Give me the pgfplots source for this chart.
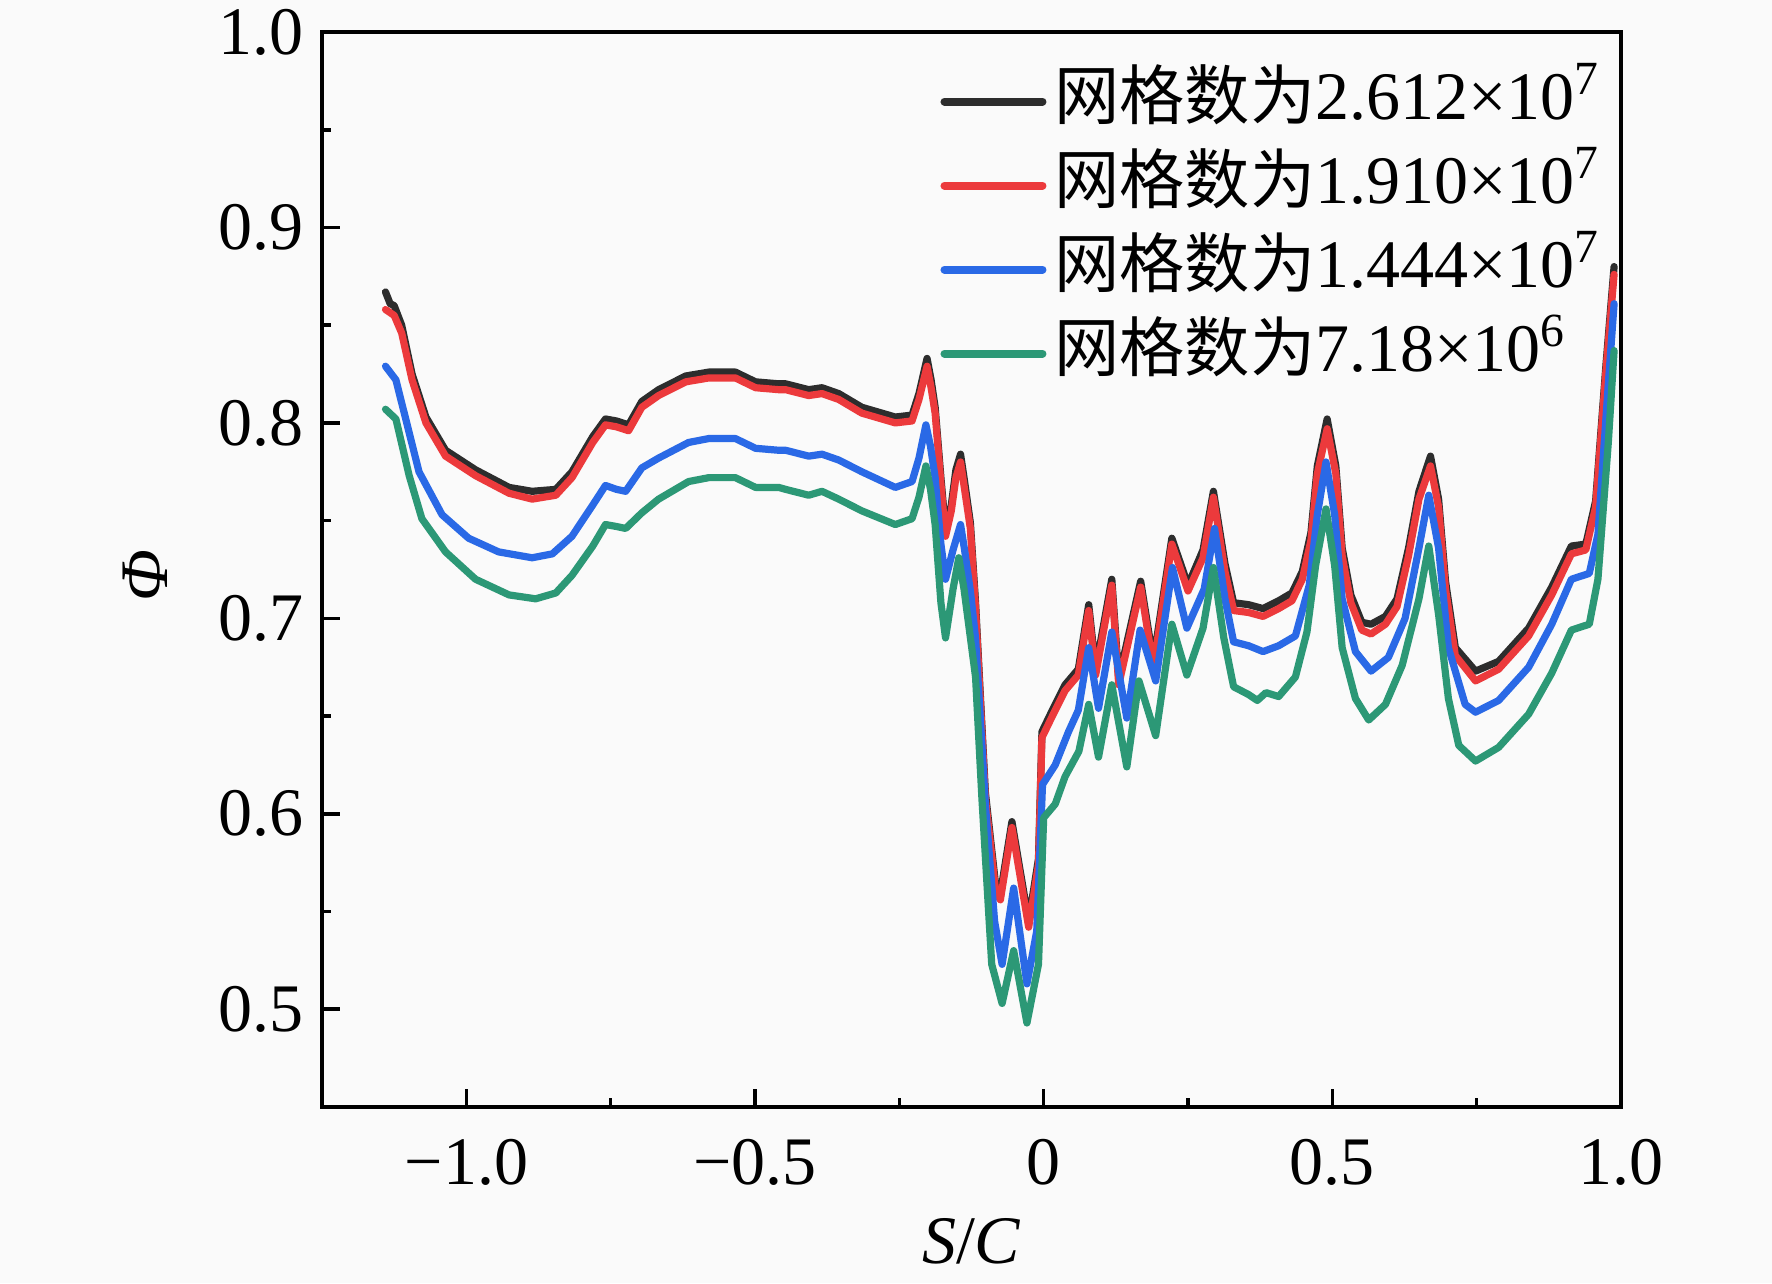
\documentclass[border=0pt]{standalone}
\usepackage{pgfplots}
\pgfplotsset{compat=1.18}
\usepackage{fontspec}
\setmainfont{Liberation Serif}
\newfontfamily\cjk{Noto Sans CJK SC}
\newcommand{\cj}[1]{{\cjk\fontsize{16.3}{20}\selectfont #1}}
\definecolor{cblack}{RGB}{45,45,45}
\definecolor{cred}{RGB}{236,58,60}
\definecolor{cblue}{RGB}{42,105,230}
\definecolor{cgreen}{RGB}{44,152,118}
\definecolor{bg}{RGB}{250,250,250}
\begin{document}
\begin{tikzpicture}
\fill[bg] (-80.5pt,-44pt) rectangle (362.5pt,276.75pt);
\useasboundingbox (-80.5pt,-44pt) rectangle (362.5pt,276.75pt);
\begin{axis}[
  scale only axis, width=324.75pt, height=268.75pt,
  xmin=-1.25, xmax=1.0, ymin=0.45, ymax=1.0,
  font=\fontsize{17}{20}\selectfont,
  axis line style={line width=1pt},
  tick style={line width=0.9pt, black},
  tick align=inside, xtick pos=bottom, ytick pos=left,
  major tick length=4.6pt, minor tick length=2.2pt,
  xtick={-1,-0.5,0,0.5,1}, xticklabels={−1.0,−0.5,0,0.5,1.0},
  ytick={0.5,0.6,0.7,0.8,0.9,1.0}, yticklabels={0.5,0.6,0.7,0.8,0.9,1.0},
  minor xtick={-0.75,-0.25,0.25,0.75},
  minor ytick={0.55,0.65,0.75,0.85,0.95},
  xticklabel style={yshift=-4.5pt},
  yticklabel style={xshift=-1pt},
  xlabel={\textit{S}/\textit{C}}, ylabel={\textit{Φ}},
  xlabel style={at={(axis description cs:0.5,-0.1247)}, anchor=center},
  ylabel style={at={(axis description cs:-0.136,0.494)}, anchor=center},
  legend cell align=left,
  legend image code/.code={\draw[#1,line width=2pt] (0pt,0pt) -- (24.5pt,0pt);},
  legend style={at={(axis cs:0.9796,0.9863)}, anchor=north east, draw=none, fill=none,
    inner sep=0pt, row sep=0pt,
    nodes={inner sep=2pt, text height=13pt, text depth=4pt, font=\fontsize{17}{20}\selectfont}},
  every axis plot/.append style={line width=1.8pt, line join=round, line cap=round},
]
\addplot[cblack] coordinates {
(-1.140,0.867)(-1.132,0.861)(-1.125,0.860)(-1.112,0.850)(-1.094,0.825)(-1.070,0.803)(-1.036,0.786)(-0.984,0.776)(-0.926,0.767)(-0.886,0.765)(-0.845,0.766)(-0.817,0.775)(-0.781,0.793)(-0.759,0.802)(-0.740,0.801)(-0.719,0.799)(-0.696,0.811)(-0.667,0.817)(-0.620,0.824)(-0.580,0.826)(-0.534,0.826)(-0.499,0.821)(-0.459,0.820)(-0.447,0.820)(-0.407,0.817)(-0.384,0.818)(-0.355,0.815)(-0.315,0.808)(-0.257,0.803)(-0.228,0.804)(-0.216,0.815)(-0.202,0.833)(-0.195,0.822)(-0.188,0.808)(-0.178,0.772)(-0.170,0.745)(-0.160,0.758)(-0.152,0.776)(-0.144,0.784)(-0.137,0.770)(-0.127,0.749)(-0.118,0.708)(-0.101,0.611)(-0.083,0.563)(-0.075,0.559)(-0.055,0.596)(-0.026,0.545)(-0.009,0.577)(-0.003,0.642)(0.015,0.653)(0.037,0.666)(0.060,0.674)(0.078,0.707)(0.090,0.674)(0.118,0.720)(0.130,0.669)(0.168,0.719)(0.190,0.678)(0.222,0.741)(0.250,0.717)(0.276,0.735)(0.294,0.765)(0.314,0.728)(0.329,0.708)(0.355,0.707)(0.380,0.705)(0.407,0.709)(0.430,0.713)(0.448,0.724)(0.463,0.744)(0.474,0.778)(0.491,0.802)(0.506,0.778)(0.517,0.736)(0.532,0.712)(0.551,0.698)(0.567,0.697)(0.592,0.701)(0.612,0.710)(0.632,0.736)(0.650,0.765)(0.670,0.783)(0.684,0.761)(0.696,0.719)(0.713,0.685)(0.748,0.673)(0.788,0.678)(0.840,0.695)(0.880,0.716)(0.914,0.737)(0.939,0.738)(0.956,0.760)(0.974,0.830)(0.988,0.880)
};
\addlegendentry{\cj{网格数为}2.612×10\textsuperscript{7}}
\addplot[cred] coordinates {
(-1.140,0.858)(-1.125,0.855)(-1.112,0.846)(-1.094,0.822)(-1.070,0.800)(-1.036,0.783)(-0.984,0.773)(-0.926,0.764)(-0.886,0.761)(-0.845,0.763)(-0.817,0.772)(-0.781,0.790)(-0.759,0.799)(-0.740,0.798)(-0.719,0.796)(-0.696,0.808)(-0.667,0.814)(-0.620,0.821)(-0.580,0.823)(-0.534,0.823)(-0.499,0.818)(-0.459,0.817)(-0.447,0.817)(-0.407,0.814)(-0.384,0.815)(-0.355,0.812)(-0.315,0.805)(-0.257,0.800)(-0.228,0.801)(-0.216,0.812)(-0.202,0.829)(-0.195,0.818)(-0.188,0.805)(-0.178,0.769)(-0.170,0.742)(-0.160,0.755)(-0.152,0.772)(-0.144,0.780)(-0.137,0.766)(-0.127,0.746)(-0.118,0.705)(-0.101,0.608)(-0.083,0.560)(-0.075,0.556)(-0.055,0.593)(-0.026,0.542)(-0.009,0.574)(-0.003,0.639)(0.015,0.650)(0.037,0.663)(0.060,0.671)(0.078,0.704)(0.090,0.671)(0.118,0.717)(0.130,0.666)(0.168,0.716)(0.190,0.675)(0.222,0.738)(0.250,0.714)(0.276,0.731)(0.294,0.762)(0.314,0.724)(0.329,0.704)(0.355,0.703)(0.380,0.701)(0.407,0.705)(0.430,0.709)(0.448,0.720)(0.463,0.740)(0.474,0.774)(0.491,0.797)(0.506,0.774)(0.517,0.732)(0.532,0.708)(0.551,0.694)(0.567,0.692)(0.592,0.697)(0.612,0.706)(0.632,0.732)(0.650,0.761)(0.670,0.778)(0.684,0.757)(0.696,0.715)(0.713,0.681)(0.748,0.668)(0.788,0.674)(0.840,0.691)(0.880,0.712)(0.914,0.733)(0.939,0.735)(0.956,0.757)(0.974,0.827)(0.988,0.876)
};
\addlegendentry{\cj{网格数为}1.910×10\textsuperscript{7}}
\addplot[cblue] coordinates {
(-1.140,0.829)(-1.122,0.822)(-1.099,0.795)(-1.082,0.775)(-1.042,0.753)(-0.996,0.741)(-0.944,0.734)(-0.886,0.731)(-0.851,0.733)(-0.817,0.742)(-0.781,0.758)(-0.759,0.768)(-0.740,0.766)(-0.724,0.765)(-0.696,0.777)(-0.667,0.782)(-0.615,0.790)(-0.580,0.792)(-0.534,0.792)(-0.499,0.787)(-0.459,0.786)(-0.447,0.786)(-0.407,0.783)(-0.384,0.784)(-0.355,0.781)(-0.315,0.775)(-0.257,0.767)(-0.228,0.770)(-0.216,0.782)(-0.204,0.799)(-0.196,0.788)(-0.188,0.772)(-0.178,0.738)(-0.170,0.720)(-0.157,0.735)(-0.144,0.748)(-0.137,0.735)(-0.127,0.714)(-0.118,0.690)(-0.101,0.605)(-0.085,0.545)(-0.072,0.523)(-0.052,0.562)(-0.029,0.513)(-0.012,0.540)(-0.002,0.615)(0.020,0.625)(0.043,0.642)(0.060,0.653)(0.078,0.685)(0.095,0.654)(0.118,0.693)(0.144,0.649)(0.167,0.694)(0.194,0.668)(0.223,0.726)(0.248,0.695)(0.278,0.715)(0.296,0.746)(0.314,0.710)(0.329,0.688)(0.355,0.686)(0.380,0.683)(0.407,0.686)(0.436,0.691)(0.460,0.717)(0.474,0.753)(0.489,0.780)(0.504,0.753)(0.517,0.710)(0.540,0.683)(0.567,0.673)(0.597,0.680)(0.626,0.700)(0.650,0.736)(0.667,0.763)(0.684,0.736)(0.701,0.685)(0.730,0.656)(0.748,0.652)(0.788,0.658)(0.840,0.675)(0.880,0.697)(0.914,0.720)(0.945,0.723)(0.960,0.743)(0.978,0.820)(0.988,0.861)
};
\addlegendentry{\cj{网格数为}1.444×10\textsuperscript{7}}
\addplot[cgreen] coordinates {
(-1.140,0.807)(-1.122,0.802)(-1.099,0.773)(-1.077,0.751)(-1.036,0.734)(-0.984,0.720)(-0.926,0.712)(-0.880,0.710)(-0.845,0.713)(-0.817,0.722)(-0.781,0.737)(-0.759,0.748)(-0.740,0.747)(-0.724,0.746)(-0.696,0.754)(-0.667,0.761)(-0.615,0.770)(-0.580,0.772)(-0.534,0.772)(-0.499,0.767)(-0.459,0.767)(-0.447,0.766)(-0.407,0.763)(-0.384,0.765)(-0.355,0.761)(-0.315,0.755)(-0.257,0.748)(-0.228,0.751)(-0.216,0.762)(-0.204,0.778)(-0.196,0.766)(-0.188,0.748)(-0.178,0.708)(-0.170,0.690)(-0.157,0.715)(-0.147,0.731)(-0.138,0.715)(-0.130,0.697)(-0.118,0.670)(-0.107,0.608)(-0.090,0.523)(-0.072,0.503)(-0.052,0.530)(-0.029,0.493)(-0.009,0.523)(0.000,0.598)(0.020,0.605)(0.037,0.619)(0.061,0.632)(0.078,0.656)(0.095,0.629)(0.118,0.666)(0.144,0.624)(0.165,0.668)(0.194,0.640)(0.222,0.697)(0.248,0.671)(0.276,0.695)(0.294,0.726)(0.312,0.690)(0.329,0.665)(0.355,0.661)(0.370,0.658)(0.385,0.662)(0.407,0.660)(0.436,0.670)(0.456,0.693)(0.471,0.727)(0.489,0.756)(0.504,0.727)(0.517,0.685)(0.540,0.659)(0.563,0.648)(0.592,0.656)(0.621,0.676)(0.650,0.710)(0.667,0.737)(0.684,0.702)(0.701,0.659)(0.719,0.635)(0.748,0.627)(0.788,0.634)(0.840,0.651)(0.880,0.672)(0.914,0.694)(0.945,0.697)(0.960,0.720)(0.978,0.790)(0.988,0.837)
};
\addlegendentry{\cj{网格数为}7.18×10\textsuperscript{6}}
\end{axis}
\end{tikzpicture}
\end{document}
